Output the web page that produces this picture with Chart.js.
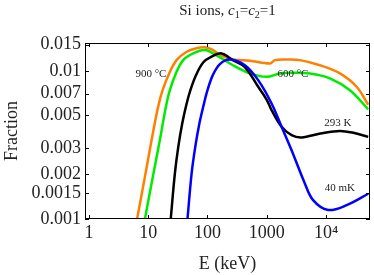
<!DOCTYPE html>
<html>
<head>
<meta charset="utf-8">
<script src="https://cdn.jsdelivr.net/npm/chart.js@4/dist/chart.umd.min.js"></script>
<style>
  body { margin: 0; background: #fff; }
  #wrap { position: relative; width: 374px; height: 275px; }
  #title { position: absolute; top: 2px; left: 85px; width: 285px; text-align: center;
    font: 15px 'Liberation Serif', serif; line-height: 16px; color: #222; }
  #title sub { font-size: 10px; vertical-align: -3px; line-height: 0; }
</style>
</head>
<body>
<div id="wrap">
  <canvas id="myChart" width="374" height="275"></canvas>
  <div id="title">Si ions, <i>c</i><sub>1</sub>=<i>c</i><sub>2</sub>=1</div>
</div>
<script>
// energies (keV) and fractions, one pair of arrays per curve
const E_900C = [6.2, 6.5, 8.6, 11.4, 14.7, 17.5, 22.6, 30.1, 44, 65.5, 90, 120, 162, 268, 519, 1128, 1370, 2296, 3614, 7860, 17100, 32700, 51300];
const F_900C = [0.0009, 0.001, 0.00183, 0.0034, 0.00571, 0.0074, 0.0096, 0.0118, 0.0134, 0.0142, 0.0144, 0.0139, 0.0128, 0.0119, 0.0117, 0.0112, 0.0118, 0.0119, 0.0118, 0.0109, 0.0096, 0.0078, 0.0059];

const E_600C = [8.4, 8.8, 11.7, 15.7, 19.9, 23.2, 29.3, 38.9, 57.4, 90, 142, 268, 519, 993, 1663, 2600, 5330, 11600, 25200, 51300];
const F_600C = [0.0009, 0.001, 0.00183, 0.0034, 0.00571, 0.0074, 0.0096, 0.0118, 0.0131, 0.0138, 0.0127, 0.0109, 0.0096, 0.0091, 0.0096, 0.0097, 0.0096, 0.0089, 0.0074, 0.0055];

const E_293K = [23.5, 24, 28.2, 32.3, 37.5, 44, 51.5, 63.7, 84.6, 117, 173, 268, 427, 716, 993, 1205, 1776, 2620, 3860, 8000, 17100, 30000, 51300];
const F_293K = [0.0009, 0.001, 0.00203, 0.0031, 0.00441, 0.0059, 0.0074, 0.0093, 0.01137, 0.01245, 0.0131, 0.0118, 0.0106, 0.0078, 0.0064, 0.00543, 0.00419, 0.00368, 0.00355, 0.00377, 0.00393, 0.0038, 0.00358];

const E_40mK = [45, 46, 54, 62.5, 73, 86, 100, 123, 162, 239, 427, 716, 1205, 1776, 2620, 4275, 6040, 10800, 22200, 51300];
const F_40mK = [0.0009, 0.001, 0.00203, 0.0031, 0.00441, 0.00587, 0.0074, 0.00935, 0.0111, 0.0119, 0.0109, 0.00865, 0.00602, 0.00419, 0.00291, 0.00178, 0.00134, 0.00115, 0.00124, 0.00148];

const xTickValues = [1, 10, 100, 1000, 10000];
const xTickLabels = ['1', '10', '100', '1000', '10\u2074'];
const yTickValues = [0.001, 0.0015, 0.002, 0.003, 0.005, 0.007, 0.01, 0.015];
const yTickLabels = ['0.001', '0.0015', '0.002', '0.003', '0.005', '0.007', '0.01', '0.015'];

// curve labels: text, E, fraction
const labelTexts = ['900 \u00B0C', '600 \u00B0C', '293 K', '40 mK'];
const labelE = [11.1, 2755, 15800, 17100];
const labelF = [0.0095, 0.0095, 0.00443, 0.00161];

const serif = "'Liberation Serif', 'Times New Roman', serif";

function pts(xs, ys) {
  return xs.map((x, i) => ({ x: x, y: ys[i] }));
}

// frame with inward ticks on all four sides, mathematica style
const framePlugin = {
  id: 'frame',
  afterDraw(chart) {
    const c = chart.ctx;
    const a = chart.chartArea;
    const xs = chart.scales.x, ys = chart.scales.y;
    const len = 4;
    c.save();
    c.strokeStyle = '#000';
    c.lineWidth = 1;
    c.strokeRect(a.left + 0.5, a.top + 0.5, a.right - a.left - 1, a.bottom - a.top - 1);
    c.beginPath();
    xTickValues.forEach(v => {
      const px = Math.round(xs.getPixelForValue(v)) + 0.5;
      c.moveTo(px, a.bottom); c.lineTo(px, a.bottom - len);
      c.moveTo(px, a.top); c.lineTo(px, a.top + len);
    });
    yTickValues.forEach(v => {
      const py = Math.round(ys.getPixelForValue(v)) + 0.5;
      c.moveTo(a.left, py); c.lineTo(a.left + len, py);
      c.moveTo(a.right, py); c.lineTo(a.right - len, py);
    });
    c.stroke();
    c.restore();
  }
};

const labelPlugin = {
  id: 'curveLabels',
  afterDatasetsDraw(chart) {
    const c = chart.ctx;
    c.save();
    c.font = '11px ' + serif;
    c.fillStyle = '#222';
    c.textAlign = 'center';
    c.textBaseline = 'middle';
    labelTexts.forEach((t, i) => {
      c.fillText(t, chart.scales.x.getPixelForValue(labelE[i]), chart.scales.y.getPixelForValue(labelF[i]));
    });
    c.restore();
  }
};

const data = {
  datasets: [
    { label: '40 mK', data: pts(E_40mK, F_40mK), borderColor: 'rgb(0,0,255)' },
    { label: '293 K', data: pts(E_293K, F_293K), borderColor: '#000' },
    { label: '600 °C', data: pts(E_600C, F_600C), borderColor: 'rgb(0,235,0)' },
    { label: '900 °C', data: pts(E_900C, F_900C), borderColor: 'rgb(255,128,0)' }
  ]
};

const config = {
  type: 'line',
  data,
  options: {
    responsive: false,
    animation: false,
    layout: { padding: { top: 43, right: 4, left: 0, bottom: 0 } },
    plugins: { legend: { display: false }, tooltip: { enabled: false } },
    elements: {
      point: { radius: 0 },
      line: { borderWidth: 2.5, tension: 0.35, fill: false }
    },
    scales: {
      x: {
        type: 'logarithmic',
        min: 0.86,
        max: 55000,
        grid: { display: false, drawTicks: false },
        border: { display: false },
        afterBuildTicks: s => { s.ticks = xTickValues.map(v => ({ value: v })); },
        afterFit: s => { s.height = 56; },
        ticks: {
          autoSkip: false,
          maxRotation: 0,
          padding: 3,
          color: '#222',
          font: { family: serif, size: 18 },
          callback: v => xTickLabels[xTickValues.indexOf(v)]
        },
        title: { display: true, text: 'E (keV)', color: '#222', padding: { top: 0, bottom: 0 }, font: { family: serif, size: 18 } }
      },
      y: {
        type: 'logarithmic',
        min: 0.001,
        max: 0.0154,
        grid: { display: false, drawTicks: false },
        border: { display: false },
        afterBuildTicks: s => { s.ticks = yTickValues.map(v => ({ value: v })); },
        afterFit: s => { s.width = 85; },
        ticks: {
          autoSkip: false,
          padding: 4,
          color: '#222',
          font: { family: serif, size: 18 },
          callback: v => yTickLabels[yTickValues.indexOf(v)]
        },
        title: { display: true, text: 'Fraction', color: '#222', padding: { top: 1, bottom: 0 }, font: { family: serif, size: 18 } }
      }
    }
  },
  plugins: [labelPlugin, framePlugin]
};

const myChart = new Chart(document.getElementById('myChart'), config);
</script>
</body>
</html>
